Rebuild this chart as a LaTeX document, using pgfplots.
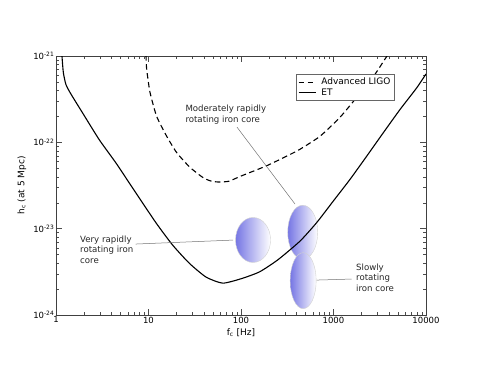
\documentclass[border=0pt]{standalone}
\usepackage{pgfplots}
\pgfplotsset{compat=1.18}
\usetikzlibrary{shapes.geometric}
\usepackage{fontspec}
\setmainfont{DejaVu Sans}

\definecolor{coreblue}{RGB}{118,118,228}

\begin{document}
\begin{tikzpicture}[font=\fontsize{8.5}{10}\selectfont]
\useasboundingbox (-56pt,-56pt) rectangle (423pt,315pt);
\begin{axis}[
  scale only axis, width=370pt, height=259pt,
  xmode=log, ymode=log,
  xmin=1, xmax=10000, ymin=1e-24, ymax=1e-21,
  xtick={1,10,100,1000,10000},
  xticklabels={1,10,100,1000,10000},
  ytick={1e-24,1e-23,1e-22,1e-21},
  yticklabels={10\textsuperscript{-24},10\textsuperscript{-23},10\textsuperscript{-22},10\textsuperscript{-21}},
  minor xtick={2,3,4,5,6,7,8,9,20,30,40,50,60,70,80,90,200,300,400,500,600,700,800,900,2000,3000,4000,5000,6000,7000,8000,9000},
  minor ytick={2e-24,3e-24,4e-24,5e-24,6e-24,7e-24,8e-24,9e-24,2e-23,3e-23,4e-23,5e-23,6e-23,7e-23,8e-23,9e-23,2e-22,3e-22,4e-22,5e-22,6e-22,7e-22,8e-22,9e-22},
  tick align=inside,
  major tick length=6pt, minor tick length=3pt,
  axis line style={black!75},
  every tick/.style={black!70},
  xticklabel style={inner sep=1.5pt},
  yticklabel style={inner sep=1.5pt},
  xlabel={f\textsubscript{c} [Hz]},
  ylabel={h\textsubscript{c} (at 5 Mpc)},
  label style={font=\fontsize{9}{10}\selectfont},
  xlabel style={at={(axis description cs:0.5,-0.07)}, anchor=center},
  ylabel style={at={(axis description cs:-0.092,0.5)}, anchor=center},
  legend style={at={(0.65,0.929)}, anchor=north west, draw=black!60, fill=white,
    font=\fontsize{9}{10}\selectfont, inner sep=1.5pt, row sep=-2pt, column sep=3pt},
  legend cell align=left,
]

% source regions
\node[ellipse, draw=black!18, left color=coreblue, right color=white, minimum width=35pt, minimum height=45pt, inner sep=0pt] at (axis cs:135,7.4e-24) {};
\node[ellipse, draw=black!18, left color=coreblue, right color=white, minimum width=30pt, minimum height=54pt, inner sep=0pt] at (axis cs:465,9.1e-24) {};
\node[ellipse, draw=black!18, left color=coreblue, right color=white, minimum width=26pt, minimum height=56pt, inner sep=0pt] at (axis cs:470,2.5e-24) {};

\addplot[black, line width=1.1pt, dash pattern=on 5.5pt off 3.5pt, smooth, tension=0.35] coordinates {
  (9.3,1.3e-21) (9.4,1e-21) (9.55,7.08e-22) (10.38,3.80e-22) (12.25,2.0e-22)
  (15.74,1.175e-22) (20.2,7.59e-23) (28.1,5.13e-23) (39.1,3.89e-23) (47.9,3.55e-23)
  (58.3,3.47e-23) (74.1,3.55e-23) (100,4.07e-23) (190.5,5.37e-23) (339,7.24e-23)
  (434.5,8.32e-23) (714,1.175e-22) (1175,1.95e-22) (1778,3.31e-22) (2692,5.75e-22)
  (3785,1e-21) (4100,1.15e-21)
};
\addlegendentry{Advanced LIGO}

\addplot[black, line width=1.1pt, smooth, tension=0.35] coordinates {
  (1.14,1.3e-21) (1.16,1e-21) (1.2,6.46e-22) (1.28,4.68e-22) (1.45,3.63e-22)
  (1.94,2.19e-22) (2.94,1.07e-22) (4.46,5.75e-23) (6.75,2.95e-23) (12.05,1.17e-23)
  (18.24,6.46e-24) (27.6,3.98e-24) (41.9,2.75e-24) (63.4,2.34e-24) (100,2.63e-24)
  (158.5,3.16e-24) (251,4.37e-24) (434.5,7.18e-24) (657.7,1.175e-23) (995,2.09e-23)
  (1507,3.72e-23) (2286,6.92e-23) (3451,1.29e-22) (5236,2.40e-22) (7925,4.27e-22)
  (10000,6.2e-22)
};
\addlegendentry{ET}

% annotations
\draw[black!55, line width=0.5pt] (axis cs:7.27,6.64e-24) -- (axis cs:82,7.38e-24);
\draw[black!55, line width=0.5pt] (axis cs:90.5,1.50e-22) -- (axis cs:383.5,1.93e-23);
\draw[black!55, line width=0.5pt] (axis cs:658,2.54e-24) -- (axis cs:1574,2.61e-24);

\node[anchor=west, align=left, inner sep=0pt, text=black!85, font=\fontsize{8.6}{10.7}\selectfont] at (axis cs:1.817,5.7e-24) {Very rapidly\\rotating iron\\core};
\node[anchor=west, align=left, inner sep=0pt, text=black!85, font=\fontsize{8.6}{10.7}\selectfont] at (axis cs:25.0,2.11e-22) {Moderately rapidly\\rotating iron core};
\node[anchor=west, align=left, inner sep=0pt, text=black!85, font=\fontsize{8.6}{10.7}\selectfont] at (axis cs:1750,2.70e-24) {Slowly\\rotating\\iron core};
\end{axis}
\end{tikzpicture}
\end{document}
